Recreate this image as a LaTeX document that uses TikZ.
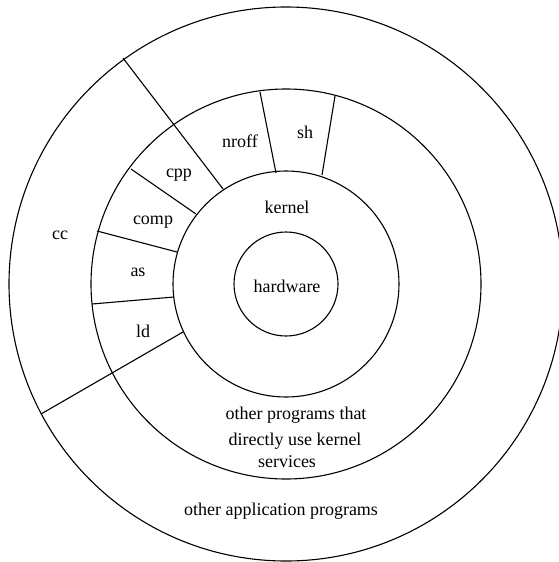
\documentclass[tikz,border=0pt]{standalone}
\usepackage{fontspec}
\setmainfont{Liberation Serif}
\begin{document}
\begin{tikzpicture}[x=1pt,y=-1pt,
  ring/.style={line width=1.1pt},
  divider/.style={line width=1.1pt},
  lbl/.style={anchor=base,inner sep=0pt,font=\fontsize{18}{24}\selectfont}]
\useasboundingbox (0,0) rectangle (559,562);
\coordinate (o) at (286,284);
% rings
\draw[ring] (o) circle[radius=277pt];
\draw[ring] (o) circle[radius=195pt];
\draw[ring] (o) circle[radius=113pt];
\draw[ring] (o) circle[radius=52pt];
% cc boundaries (outer circle to kernel circle)
\coordinate (ccTopOut) at (123,58);
\coordinate (ccTopIn) at (223,189);
\coordinate (ccBotOut) at (41,414);
\coordinate (ccBotIn) at (183,332);
\draw[divider] (ccTopOut) -- (ccTopIn);
\draw[divider] (ccBotOut) -- (ccBotIn);
% subdivisions of the middle ring
\coordinate (cpcOut) at (131,169);
\coordinate (cpcIn) at (196,214);
\coordinate (casOut) at (97,231);
\coordinate (casIn) at (177,252);
\coordinate (aldOut) at (92,304);
\coordinate (aldIn) at (174,297);
\coordinate (nshOut) at (260,92);
\coordinate (nshIn) at (276,173);
\coordinate (shrOut) at (335,96);
\coordinate (shrIn) at (322,175);
\draw[divider] (cpcOut) -- (cpcIn);
\draw[divider] (casOut) -- (casIn);
\draw[divider] (aldOut) -- (aldIn);
\draw[divider] (nshOut) -- (nshIn);
\draw[divider] (shrOut) -- (shrIn);
% labels
\node[lbl] (hw) at (287,292) {hardware};
\node[lbl] (kern) at (287,213) {kernel};
\node[lbl] (cc) at (60,239) {cc};
\node[lbl] (cpp) at (179,177) {cpp};
\node[lbl] (comp) at (153,224) {comp};
\node[lbl] (as) at (138,276) {as};
\node[lbl] (ld) at (143,337) {ld};
\node[lbl] (nroff) at (240,147) {nroff};
\node[lbl] (sh) at (305,138) {sh};
\node[lbl] (op1) at (296,419) {other programs that};
\node[lbl] (op2) at (295,445) {directly use kernel};
\node[lbl] (op3) at (287,467) {services};
\node[lbl] (oap) at (281,515) {other application programs};
\end{tikzpicture}
\end{document}
